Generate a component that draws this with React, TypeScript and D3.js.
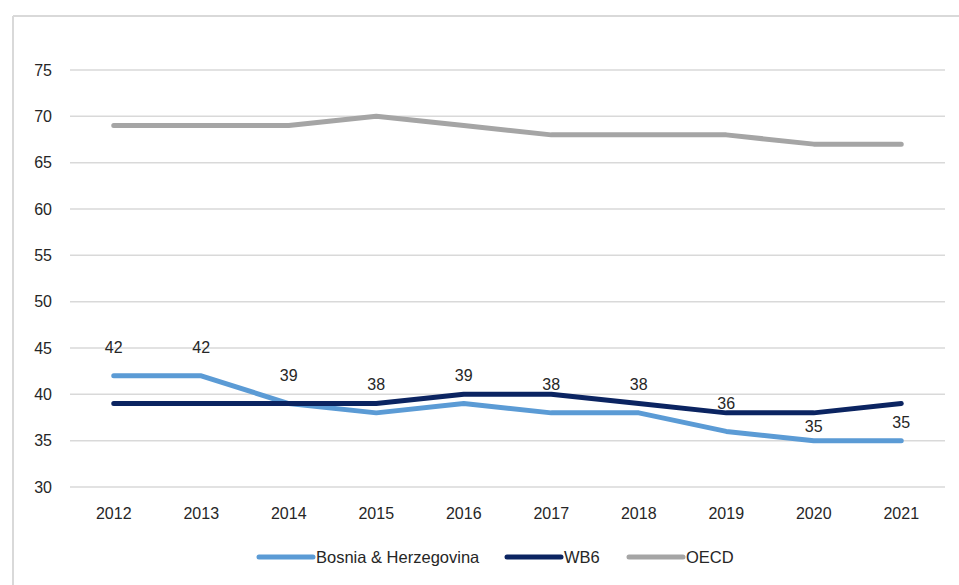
import React from "react";
import * as d3 from "d3";

const years = ["2012","2013","2014","2015","2016","2017","2018","2019","2020","2021"];
const bih = [42,42,39,38,39,38,38,36,35,35];
const wb6 = [39,39,39,39,40,40,39,38,38,39];
const oecd = [69,69,69,70,69,68,68,68,67,67];
const yTicks = [30,35,40,45,50,55,60,65,70,75];
const seriesNames = ["Bosnia & Herzegovina","WB6","OECD"];
const seriesColors = ["#5b9bd5","#0b2461","#a5a5a5"];

const W = 959, H = 585;
const FONT = "'Liberation Sans', Arial, sans-serif";

export default function App() {
  const x = d3.scaleBand<string>().domain(years).range([70, 945]);
  const y = d3.scaleLinear().domain([30, 75]).range([487, 70]);
  const cx = (yr: string) => (x(yr) as number) + x.bandwidth() / 2;
  const line = d3.line<number>().x((_, i) => cx(years[i])).y(d => y(d));
  const allSeries = [bih, wb6, oecd];

  const labelY = (i: number) => {
    const p = y(bih[i]);
    const def = p - 28;
    const other = y(wb6[i]);
    if (def > other - 5 && def < other + 20) return (p + other) / 2;
    return def;
  };

  const legendX = [259, 507, 629];

  return (
    <svg width={W} height={H} style={{ position: "absolute", left: 0, top: 0, background: "#fff" }} fontFamily={FONT}>
      <rect x={0} y={0} width={W} height={H} fill="#fff" />
      <line x1={13} x2={W} y1={16} y2={16} stroke="#d9d9d9" strokeWidth={2} />
      <line x1={13} x2={13} y1={16} y2={H} stroke="#d9d9d9" strokeWidth={2} />
      {yTicks.map(t => (
        <g key={t}>
          <line x1={70} x2={945} y1={y(t)} y2={y(t)} stroke="#d9d9d9" strokeWidth={1.5} />
          <text x={52} y={y(t)} dy="0.35em" textAnchor="end" fontSize={16} fill="#262626">{t}</text>
        </g>
      ))}
      {years.map(yr => (
        <text key={yr} x={cx(yr)} y={513} dy="0.35em" textAnchor="middle" fontSize={16} fill="#262626">{yr}</text>
      ))}
      {[2, 0, 1].map(k => (
        <path key={k} d={line(allSeries[k]) || ""} fill="none" stroke={seriesColors[k]} strokeWidth={5} strokeLinecap="round" strokeLinejoin="round" />
      ))}
      {bih.map((v, i) => (
        <text key={i} x={cx(years[i])} y={labelY(i)} dy="0.35em" textAnchor="middle" fontSize={16} fill="#262626">{v}</text>
      ))}
      {seriesNames.map((n, k) => (
        <g key={n}>
          <line x1={legendX[k]} x2={legendX[k] + 54} y1={557} y2={557} stroke={seriesColors[k]} strokeWidth={5} strokeLinecap="round" />
          <text x={legendX[k] + 57} y={557} dy="0.35em" fontSize={16.5} fill="#262626">{n}</text>
        </g>
      ))}
    </svg>
  );
}
